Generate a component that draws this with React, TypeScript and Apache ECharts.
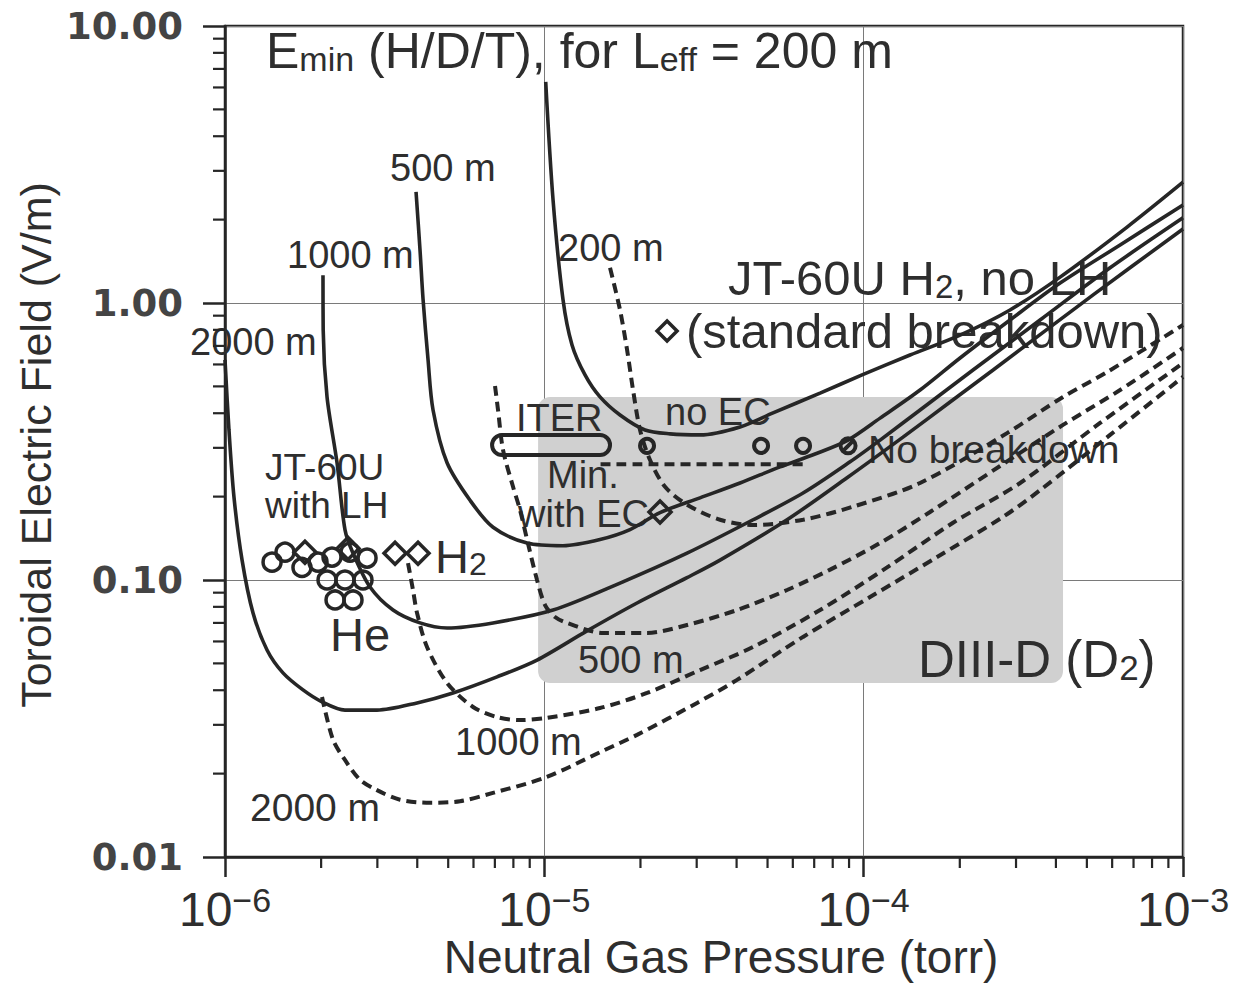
import React, { useEffect, useRef } from "react";
import * as echarts from "echarts";

// ---------------- data (pressure in torr, field in V/m) ----------------
const X_MIN = 1e-6;
const X_MAX = 1e-3;
const Y_MIN = 0.01;
const Y_MAX = 10;

const yTickLabels = ["0.01", "0.10", "1.00", "10.00"];
const xTickExponents = ["−6", "−5", "−4", "−3"];
const tickDecadesX = [1e-6, 1e-5, 1e-4];
const tickDecadesY = [0.01, 0.1, 1];
const minorMultipliers = [2, 3, 4, 5, 6, 7, 8, 9];

// solid curves: E_min (H/D/T)
const solid200P = [1.01e-5, 1.065e-5, 1.144e-5, 1.221e-5, 1.341e-5, 1.494e-5, 1.726e-5, 2.067e-5, 2.475e-5, 3.073e-5, 4.101e-5, 5.203e-5, 7.302e-5, 9.886e-5, 1.397e-4, 2.004e-4, 2.873e-4, 4.122e-4, 6.682e-4, 1.0e-3];
const solid200E = [6.28, 2.35, 1.03, 0.706, 0.55, 0.458, 0.394, 0.348, 0.337, 0.334, 0.357, 0.401, 0.473, 0.55, 0.649, 0.766, 0.944, 1.24, 1.88, 2.73];

const solid500P = [3.965e-6, 4.081e-6, 4.171e-6, 4.324e-6, 4.482e-6, 4.959e-6, 5.852e-6, 6.909e-6, 8.828e-6, 1.144e-5, 1.494e-5, 1.855e-5, 2.303e-5, 3.073e-5, 4.101e-5, 5.472e-5, 7.044e-5, 8.936e-5, 1.126e-4, 1.502e-4, 2.004e-4, 2.873e-4, 4.122e-4, 6.353e-4, 1.0e-3];
const solid500E = [2.52, 1.55, 1.03, 0.623, 0.411, 0.265, 0.194, 0.155, 0.136, 0.133, 0.14, 0.152, 0.175, 0.198, 0.224, 0.256, 0.285, 0.32, 0.384, 0.485, 0.633, 0.868, 1.18, 1.62, 2.26];

const solid1000P = [2.027e-6, 2.03e-6, 2.087e-6, 2.243e-6, 2.375e-6, 2.517e-6, 2.845e-6, 3.359e-6, 4.081e-6, 4.959e-6, 6.909e-6, 1.065e-5, 1.726e-5, 2.798e-5, 4.504e-5, 6.459e-5, 9.067e-5, 1.126e-4, 1.502e-4, 2.2e-4, 3.568e-4, 5.911e-4, 1.0e-3];
const solid1000E = [1.26, 0.799, 0.458, 0.265, 0.152, 0.125, 0.0943, 0.0779, 0.07, 0.0671, 0.07, 0.0779, 0.0975, 0.125, 0.165, 0.206, 0.267, 0.32, 0.411, 0.573, 0.868, 1.34, 2.03];

const solid2000P = [1.0e-6, 1.029e-6, 1.067e-6, 1.131e-6, 1.224e-6, 1.354e-6, 1.519e-6, 1.755e-6, 2.013e-6, 2.375e-6, 2.992e-6, 3.994e-6, 5.176e-6, 7.111e-6, 9.487e-6, 1.36e-5, 1.951e-5, 2.798e-5, 3.55e-5, 5.755e-5, 8.872e-5, 1.328e-4, 1.865e-4, 2.543e-4, 5.231e-4, 1.0e-3];
const solid2000E = [0.623, 0.348, 0.199, 0.118, 0.076, 0.0559, 0.0462, 0.0401, 0.0363, 0.0339, 0.0339, 0.036, 0.0391, 0.0447, 0.0514, 0.0655, 0.0826, 0.102, 0.118, 0.165, 0.234, 0.328, 0.439, 0.573, 1.07, 1.85];

// dashed curves
const dashed200P = [1.606e-5, 1.726e-5, 1.816e-5, 1.896e-5, 1.994e-5, 2.143e-5, 2.388e-5, 2.798e-5, 3.55e-5, 4.504e-5, 6.459e-5, 9.265e-5, 1.502e-4, 2.812e-4, 4.21e-4, 5.784e-4, 1.0e-3];
const dashed200E = [1.34, 0.944, 0.677, 0.485, 0.348, 0.271, 0.217, 0.187, 0.165, 0.158, 0.165, 0.184, 0.224, 0.339, 0.458, 0.563, 0.833];

const dashed500P = [7.008e-6, 7.161e-6, 7.424e-6, 7.98e-6, 8.392e-6, 8.828e-6, 9.487e-6, 1.005e-5, 1.08e-5, 1.178e-5, 1.527e-5, 2.097e-5, 2.798e-5, 4.013e-5, 5.755e-5, 7.852e-5, 1.126e-4, 1.614e-4, 2.674e-4, 4.21e-4, 6.353e-4, 1.0e-3];
const dashed500E = [0.502, 0.411, 0.295, 0.217, 0.179, 0.14, 0.1, 0.0812, 0.0735, 0.07, 0.0644, 0.0644, 0.0688, 0.0779, 0.092, 0.109, 0.136, 0.176, 0.258, 0.363, 0.485, 0.688];

const dashed1000P = [3.742e-6, 3.879e-6, 3.994e-6, 4.292e-6, 4.959e-6, 5.98e-6, 7.111e-6, 8.392e-6, 1.02e-5, 1.494e-5, 2.097e-5, 3.073e-5, 4.504e-5, 7.302e-5, 1.184e-4, 1.905e-4, 3.09e-4, 5.5e-4, 1.0e-3];
const dashed1000E = [0.115, 0.092, 0.076, 0.0573, 0.0425, 0.0348, 0.032, 0.0312, 0.0318, 0.0345, 0.0391, 0.0473, 0.0573, 0.0779, 0.111, 0.161, 0.224, 0.369, 0.607];

const dashed2000P = [2.013e-6, 2.179e-6, 2.375e-6, 2.647e-6, 2.971e-6, 3.532e-6, 4.386e-6, 5.445e-6, 6.86e-6, 1.012e-5, 1.494e-5, 1.951e-5, 3.008e-5, 4.013e-5, 6.459e-5, 1.047e-4, 1.698e-4, 2.732e-4, 3.568e-4, 5.911e-4, 1.0e-3];
const dashed2000E = [0.0378, 0.0265, 0.0224, 0.019, 0.0175, 0.0161, 0.0157, 0.0159, 0.017, 0.0194, 0.0239, 0.0276, 0.036, 0.0436, 0.0623, 0.0868, 0.121, 0.169, 0.211, 0.334, 0.541];

// ITER / minimum with EC
const iterMinP = [1.5e-5, 6.6e-5];
const iterMinE = [0.262, 0.262];
const iterCapsule = [6.86e-6, 1.606e-5, 0.307]; // p from, p to, E

// JT-60U with LH
const jtH2CircleP = [1.404e-6, 1.541e-6, 1.742e-6, 1.956e-6, 2.163e-6, 2.463e-6, 2.785e-6];
const jtH2CircleE = [0.116, 0.126, 0.111, 0.116, 0.121, 0.126, 0.12];
const jtH2DiamondP = [1.78e-6, 2.428e-6, 3.408e-6, 4.022e-6];
const jtH2DiamondE = [0.126, 0.13, 0.125, 0.125];
const jtHeP = [2.087e-6, 2.375e-6, 2.705e-6, 2.211e-6, 2.517e-6];
const jtHeE = [0.1, 0.1, 0.1, 0.0847, 0.0847];

// No breakdown circles (last one slashed)
const noBreakP = [2.097e-5, 4.772e-5, 6.459e-5];
const noBreakE = [0.305, 0.305, 0.305];
const noBreakSlashP = [8.936e-5];
const noBreakSlashE = [0.305];

// JT-60U single diamonds
const withEcP = [2.303e-5];
const withEcE = [0.176];
const standardP = [2.423e-5];
const standardE = [0.792];

// DIII-D (D2) region: p from, p to, E top, E bottom
const diiidRegion = [9.56e-6, 4.21e-4, 0.458, 0.0425];

// ---------------- styling ----------------
const INK = "#262626";
const TEXT = "#2e2e2e";
const FONT = "'Liberation Sans', Arial, Helvetica, sans-serif";

const zip = (a: number[], b: number[]) => a.map((v, i) => [v, b[i]]);

const annotations = [
  { t: "{a|E}{s|min}{a| (H/D/T), for L}{s|eff}{a| = 200 m}", x: 266, y: 51, s: 50 },
  { t: "{a|500 m}", x: 390, y: 168, s: 38 },
  { t: "{a|1000 m}", x: 287, y: 255, s: 38 },
  { t: "{a|200 m}", x: 558, y: 248, s: 38 },
  { t: "{a|2000 m}", x: 190, y: 342, s: 38 },
  { t: "{a|JT-60U H}{s|2}{a|, no LH}", x: 728, y: 278, s: 49 },
  { t: "{a|(standard breakdown)}", x: 686, y: 331, s: 49 },
  { t: "{a|ITER}", x: 516, y: 418, s: 38 },
  { t: "{a|no EC}", x: 665, y: 412, s: 38 },
  { t: "{a|No breakdown}", x: 868, y: 449, s: 39 },
  { t: "{a|JT-60U}", x: 265, y: 467, s: 37 },
  { t: "{a|with LH}", x: 265, y: 505, s: 37 },
  { t: "{a|Min.}", x: 547, y: 475, s: 38 },
  { t: "{a|with EC}", x: 518, y: 514, s: 38 },
  { t: "{a|H}{s|2}", x: 435, y: 556, s: 47 },
  { t: "{a|He}", x: 330, y: 634, s: 47 },
  { t: "{a|500 m}", x: 578, y: 660, s: 38 },
  { t: "{a|DIII-D (D}{s|2}{a|)}", x: 918, y: 659, s: 51 },
  { t: "{a|1000 m}", x: 455, y: 742, s: 38 },
  { t: "{a|2000 m}", x: 250, y: 807, s: 39 },
];

const SLASH_CIRCLE = "path://M0,-10A10,10,0,1,1,0,10A10,10,0,1,1,0,-10ZM-7,7L7,-7";

export default function App() {
  const ref = useRef<HTMLDivElement | null>(null);

  useEffect(() => {
    if (!ref.current) return;
    const chart = echarts.init(ref.current, null, { renderer: "svg" });

    const xMinor: number[][] = [];
    tickDecadesX.forEach((d) => minorMultipliers.forEach((m) => xMinor.push([m * d, Y_MIN])));
    const yMinor: number[][] = [];
    tickDecadesY.forEach((d) => minorMultipliers.forEach((m) => yMinor.push([X_MIN, m * d])));

    const solid = (name: string, p: number[], e: number[]) => ({
      type: "line",
      name,
      data: zip(p, e),
      showSymbol: false,
      smooth: 0.3,
      z: 4,
      lineStyle: { color: INK, width: 3.6 },
      silent: true,
    });
    const dashed = (name: string, p: number[], e: number[]) => ({
      type: "line",
      name,
      data: zip(p, e),
      showSymbol: false,
      smooth: 0.3,
      z: 4,
      lineStyle: { color: INK, width: 4, type: [10, 6] },
      silent: true,
    });
    const scatter = (name: string, p: number[], e: number[], symbol: string, size: any, bw = 3.5) => ({
      type: "scatter",
      name,
      data: zip(p, e),
      symbol,
      symbolSize: size,
      z: 5,
      itemStyle: { color: "rgba(0,0,0,0)", borderColor: INK, borderWidth: bw, opacity: 1 },
      silent: true,
    });

    const textEls = annotations.map((a) => ({
      type: "text",
      x: a.x,
      y: a.y,
      z: 3,
      silent: true,
      style: {
        text: a.t,
        align: "left",
        verticalAlign: "middle",
        rich: {
          a: { fontSize: a.s, fontFamily: FONT, fill: TEXT, lineHeight: a.s },
          s: {
            fontSize: Math.round(a.s * 0.68),
            fontFamily: FONT,
            fill: TEXT,
            lineHeight: Math.round(a.s * 0.62),
            verticalAlign: "bottom",
          },
        },
      },
    }));

    const option: any = {
      animation: false,
      backgroundColor: "#ffffff",
      grid: {
        left: 225,
        right: 64,
        top: 26,
        bottom: 127,
        show: true,
        borderColor: INK,
        borderWidth: 2.5,
        backgroundColor: "transparent",
        containLabel: false,
      },
      xAxis: {
        type: "log",
        logBase: 10,
        min: X_MIN,
        max: X_MAX,
        axisLine: { show: true, onZero: false, lineStyle: { color: INK, width: 2.5 } },
        axisTick: { show: true, inside: false, length: 20, lineStyle: { color: INK, width: 2.5 } },
        axisLabel: {
          margin: 26,
          showMinLabel: true,
          showMaxLabel: true,
          formatter: (v: number) => {
            const idx = Math.round(Math.log10(v)) + 6;
            return "{b|10}{e|" + xTickExponents[idx] + "}";
          },
          rich: {
            b: { fontSize: 48, fontFamily: FONT, color: TEXT, lineHeight: 52 },
            e: { fontSize: 34, fontFamily: FONT, color: TEXT, lineHeight: 34, verticalAlign: "top" },
          },
        },
        splitLine: { show: true, lineStyle: { color: "#7a7a7a", width: 1 } },
      },
      yAxis: {
        type: "log",
        logBase: 10,
        min: Y_MIN,
        max: Y_MAX,
        axisLine: { show: true, onZero: false, lineStyle: { color: INK, width: 2.5 } },
        axisTick: { show: true, inside: false, length: 22, lineStyle: { color: INK, width: 2.5 } },
        axisLabel: {
          margin: 42,
          showMinLabel: true,
          showMaxLabel: true,
          fontSize: 37,
          fontWeight: "bold",
          fontFamily: "'DejaVu Sans', Verdana, sans-serif",
          color: "#444444",
          formatter: (v: number) => {
            const idx = Math.round(Math.log10(v)) + 2;
            return yTickLabels[idx] ?? v.toFixed(2);
          },
        },
        splitLine: { show: true, lineStyle: { color: "#7a7a7a", width: 1 } },
      },
      graphic: [
        ...textEls,
        {
          type: "text",
          x: 721,
          y: 957,
          z: 3,
          silent: true,
          style: {
            text: "Neutral Gas Pressure (torr)",
            align: "center",
            verticalAlign: "middle",
            fontSize: 46,
            fontFamily: FONT,
            fill: TEXT,
          },
        },
        {
          type: "text",
          x: 36,
          y: 445,
          z: 3,
          rotation: Math.PI / 2,
          silent: true,
          style: {
            text: "Toroidal Electric Field (V/m)",
            align: "center",
            verticalAlign: "middle",
            fontSize: 43,
            fontFamily: FONT,
            fill: TEXT,
          },
        },
      ],
      series: [
        {
          type: "custom",
          name: "DIII-D (D2)",
          coordinateSystem: "cartesian2d",
          data: [diiidRegion],
          encode: { x: [0, 1], y: [2, 3] },
          z: 1,
          silent: true,
          renderItem: (_p: any, api: any) => {
            const a = api.coord([api.value(0), api.value(2)]);
            const b = api.coord([api.value(1), api.value(3)]);
            return {
              type: "rect",
              shape: { x: a[0], y: a[1], width: b[0] - a[0], height: b[1] - a[1], r: 12 },
              style: { fill: "#d0d0d0", stroke: "none" },
            };
          },
        },
        solid("E_min 200 m (no EC)", solid200P, solid200E),
        solid("E_min 500 m", solid500P, solid500E),
        solid("E_min 1000 m", solid1000P, solid1000E),
        solid("E_min 2000 m", solid2000P, solid2000E),
        dashed("200 m dashed", dashed200P, dashed200E),
        dashed("500 m dashed", dashed500P, dashed500E),
        dashed("1000 m dashed", dashed1000P, dashed1000E),
        dashed("2000 m dashed", dashed2000P, dashed2000E),
        dashed("Min. with EC", iterMinP, iterMinE),
        {
          type: "custom",
          name: "ITER",
          coordinateSystem: "cartesian2d",
          data: [iterCapsule],
          encode: { x: [0, 1], y: 2 },
          z: 4,
          silent: true,
          renderItem: (_p: any, api: any) => {
            const a = api.coord([api.value(0), api.value(2)]);
            const b = api.coord([api.value(1), api.value(2)]);
            return {
              type: "rect",
              shape: { x: a[0], y: a[1] - 10, width: b[0] - a[0], height: 20, r: 10 },
              style: { fill: "none", stroke: INK, lineWidth: 4 },
            };
          },
        },
        scatter("JT-60U H2 (circles)", jtH2CircleP, jtH2CircleE, "circle", 18),
        scatter("JT-60U H2 (diamonds)", jtH2DiamondP, jtH2DiamondE, "diamond", [22, 22]),
        scatter("JT-60U He", jtHeP, jtHeE, "circle", 18),
        scatter("No breakdown", noBreakP, noBreakE, "circle", 14, 4),
        scatter("No breakdown (slashed)", noBreakSlashP, noBreakSlashE, SLASH_CIRCLE, 15, 4),
        scatter("Min. with EC", withEcP, withEcE, "diamond", [22, 22]),
        scatter("standard breakdown", standardP, standardE, "diamond", [20, 20]),
        {
          type: "custom",
          name: "x minor ticks",
          coordinateSystem: "cartesian2d",
          data: xMinor,
          clip: false,
          z: 5,
          silent: true,
          renderItem: (_p: any, api: any) => {
            const p = api.coord([api.value(0), api.value(1)]);
            return {
              type: "line",
              shape: { x1: p[0], y1: p[1], x2: p[0], y2: p[1] + 11 },
              style: { stroke: INK, lineWidth: 2.2 },
            };
          },
        },
        {
          type: "custom",
          name: "y minor ticks",
          coordinateSystem: "cartesian2d",
          data: yMinor,
          clip: false,
          z: 5,
          silent: true,
          renderItem: (_p: any, api: any) => {
            const p = api.coord([api.value(0), api.value(1)]);
            return {
              type: "line",
              shape: { x1: p[0] - 12, y1: p[1], x2: p[0], y2: p[1] },
              style: { stroke: INK, lineWidth: 2.2 },
            };
          },
        },
      ],
    };

    chart.setOption(option);
    return () => chart.dispose();
  }, []);

  return (
    <div
      ref={ref}
      style={{ position: "fixed", left: 0, top: 0, width: 1247, height: 984, background: "#fff" }}
    />
  );
}
